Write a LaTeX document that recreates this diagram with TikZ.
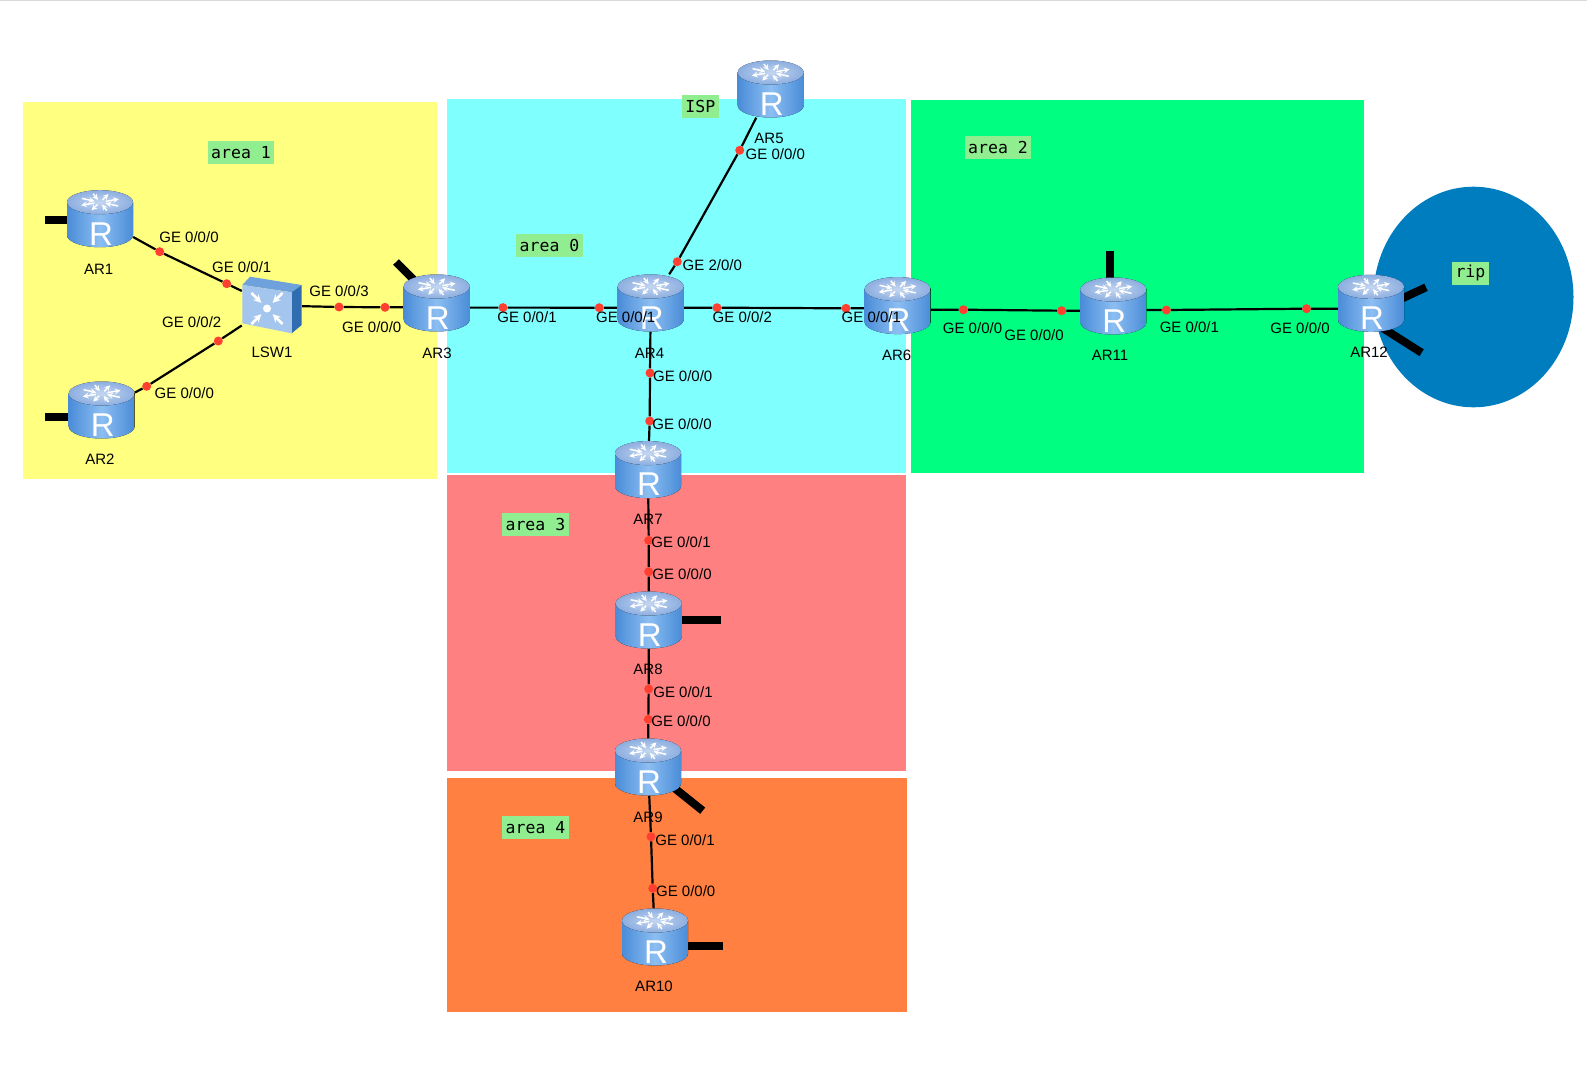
\documentclass[tikz,border=0pt]{standalone}
\usepackage{fontspec}
\setmainfont{Liberation Sans}
\setmonofont{DejaVu Sans Mono}
\usetikzlibrary{backgrounds}
\definecolor{iconblue}{HTML}{4A8CD8}
\definecolor{iconlight}{HTML}{8CBEF2}
\definecolor{icontop}{HTML}{C4D6F0}
\definecolor{iconrim}{HTML}{8CAEE0}
\definecolor{swfront}{HTML}{A4C6EE}
\definecolor{swside}{HTML}{2F6DB0}
\definecolor{swtop}{HTML}{6FA2DC}
\definecolor{tagfill}{HTML}{90EE90}
\definecolor{dotfill}{HTML}{FF4030}
\tikzset{
  router/.style={minimum width=66pt,minimum height=57pt,inner sep=0pt,
    path picture={
      \begin{scope}[shift={(path picture bounding box.center)},x=1pt,y=1pt]
        \fill[left color=iconblue,right color=iconblue,middle color=iconlight]
          (-33,16.5)--(-33,-16.5) arc[start angle=180,end angle=360,x radius=33,y radius=12]--(33,16.5)--cycle;
        \fill[inner color=icontop,outer color=iconrim](0,16.5)ellipse[x radius=33,y radius=12];
        \foreach \a in {20,200}
          \draw[white,line width=1.5pt,->]([shift={(0,16.5)}]\a:6 and 2.5)--([shift={(0,16.5)}]\a:20 and 9);
        \foreach \a in {110,290}
          \draw[white,line width=1.5pt,<-]([shift={(0,16.5)}]\a:6 and 2.5)--([shift={(0,16.5)}]\a:20 and 9);
        \foreach \a in {65,245}
          \draw[white,line width=1.5pt,->]([shift={(0,16.5)}]\a:6 and 2.5)--([shift={(0,16.5)}]\a:20 and 9);
        \foreach \a in {155,335}
          \draw[white,line width=1.5pt,<-]([shift={(0,16.5)}]\a:6 and 2.5)--([shift={(0,16.5)}]\a:20 and 9);
        \node[text=white,inner sep=0pt,font=\fontsize{33}{33}\selectfont] at (1,-15){R};
      \end{scope}
    }},
  switchbox/.style={minimum width=60pt,minimum height=58pt,inner sep=0pt,
    path picture={
      \begin{scope}[shift={(path picture bounding box.center)},x=1pt,y=1pt]
        \fill[swtop](-29.7,20.5)--(-22,28.8)--(29.7,20.5)--(19.7,13.2)--cycle;
        \fill[swside](19.7,13.2)--(29.7,20.5)--(29.7,-19.5)--(19.7,-27.8)--cycle;
        \fill[swfront](-29.7,20.5)--(19.7,13.2)--(19.7,-27.8)--(-29.7,-17.8)--cycle;
        \fill[white](-5,-3)circle(4);
        \foreach \a in {45,135,225,315}
          \draw[white,line width=2.5pt,<-]([shift=(\a:8)]-5,-3)--([shift=(\a:22)]-5,-3);
      \end{scope}
    }}
}
\begin{document}
\begin{tikzpicture}[>=stealth,x=1pt,y=-1pt,
  link/.style={black,line width=2.2pt},
  stub/.style={black,line width=8pt,shorten >=-8pt},
  portdot/.style={circle,fill=dotfill,minimum size=9pt,inner sep=0pt},
  portname/.style={inner sep=0pt,font=\fontsize{15}{15}\selectfont},
  devname/.style={inner sep=0pt,font=\fontsize{15}{15}\selectfont},
  areatag/.style={fill=tagfill,inner xsep=3.5pt,inner ysep=0pt,minimum height=23pt,
    font=\ttfamily\fontsize{16.5}{16.5}\selectfont}]
  \useasboundingbox (0,0) rectangle (1587,1078);
  \begin{scope}[on background layer]
    \draw[black!15,line width=1pt](0,0.5)--(1587,0.5);
    \fill[fill={rgb,255:red,255;green,255;blue,128}](23,102)rectangle(437,479);
    \fill[fill={rgb,255:red,128;green,255;blue,255}](447,99)rectangle(906,473);
    \fill[fill={rgb,255:red,0;green,255;blue,128}](911,100)rectangle(1364,473);
    \fill[fill={rgb,255:red,255;green,128;blue,128}](447,475)rectangle(906,771);
    \fill[fill={rgb,255:red,255;green,128;blue,64}](447,778)rectangle(907,1012);
    \fill[fill={rgb,255:red,0;green,125;blue,190}](1473.5,297)ellipse[x radius=100,y radius=110.3];
  \end{scope}
  \node[switchbox] (LSW1) at (272,305.5){};
  \foreach \n/\x/\y in {AR1/100/218.7,AR2/101.7/410,AR3/436.7/303,AR4/650.7/303,AR5/770.7/89,
    AR6/897.6/305.6,AR7/648/469.6,AR8/648.7/620,AR9/648/767,AR10/655/937,AR11/1113.4/306,AR12/1371/303.3}
    \node[router] (\n) at (\x,\y){};
  \foreach \n/\x/\y/\lx/\ly/\u/\v in {
    p1/159.7/251.7/189/236.7/0/0,p2/226.7/283.7/241.7/266.7/0/1,
    p3/146.7/386.3/184.3/392.7/0/0,p4/218.3/341/191.7/322/0/2,
    p5/339/307/339/290.7/0/3,p6/385/307.3/371.7/326.7/0/0,
    p7/503/307.6/527/317/0/1,p8/599.3/307.7/625.7/317.3/0/1,
    p9/717/307.7/742.3/317.3/0/2,p10/846/308.3/871.3/317/0/1,
    p11/963.4/309.7/972.5/328/0/0,p12/1061.6/310.7/1034/335/0/0,
    p13/1166.4/310/1189.4/326.7/0/1,p14/1306.5/308.7/1300/328/0/0,
    p15/677.3/261.7/712.3/265/2/0,p16/739.7/150.3/775.3/154/0/0,
    p17/650/373/682.7/376/0/0,p18/649.7/421/682/424/0/0,
    p19/648.7/540.4/681/542.4/0/1,p20/648.7/571.8/682/573.8/0/0,
    p21/648.7/689/683/692/0/1,p22/648.3/719.3/681/721.3/0/0,
    p23/651/836.7/685/840/0/1,p24/652.7/888.3/685.7/890.7/0/0}
  {
    \node[portdot] (\n) at (\x,\y){};
    \node[portname] (t\n) at (\lx,\ly){GE \u/0/\v};
  }
  \foreach \n/\x/\y in {AR1/98.7/269,AR2/100/459,AR3/437/353,LSW1/272/352,AR4/649.5/353,AR5/769/138.7,
    AR6/896.6/355,AR7/648/519,AR8/648/669,AR9/648/817,AR10/654/986,AR11/1110/355.7,AR12/1369/352.7}
    \node[devname] (t\n) at (\x,\y){\n};
  \foreach \n/\x/\y/\t in {a1/241/152.5/area 1,a0/549.5/245/area 0,a2/998/147.8/area 2,a3/535.4/524.2/area 3,
    a4/535.5/827.5/area 4,isp/700.3/106.5/ISP,rip/1470.4/273/rip}
    \node[areatag] (\n) at (\x,\y){\t};
  \coordinate (s1) at (45,220);
  \coordinate (s2) at (45,417);
  \coordinate (s3) at (396,262);
  \coordinate (s8) at (720.5,619.5);
  \coordinate (s9) at (702.7,810.7);
  \coordinate (s10) at (723,946);
  \coordinate (s11) at (1110,251);
  \coordinate (s12) at (1426,287.3);
  \coordinate (s13) at (1421.6,352.7);
  \begin{scope}[on background layer]
    \draw[link](AR1)--(p1)--(p2)--(LSW1);
    \draw[link](AR2)--(p3)--(p4)--(LSW1);
    \draw[link](LSW1)--(p5)--(p6)--(p6-|AR3.west);
    \draw[link](p7-|AR3.east)--(p7)--(p8)--(p8-|AR4.west);
    \draw[link](p9-|AR4.east)--(p9)--(p10)--(p10-|AR6.west);
    \draw[link](p11-|AR6.east)--(p11)--(p12)--(p12-|AR11.west);
    \draw[link](p13-|AR11.east)--(p13)--(p14)--(p14-|AR12.west);
    \draw[link](AR4)--(p15)--(p16)--(AR5);
    \draw[link](AR4)--(p17)--(p18)--(AR7);
    \draw[link](AR7)--(p19)--(p20)--(AR8);
    \draw[link](AR8)--(p21)--(p22)--(AR9);
    \draw[link](AR9)--(p23)--(p24)--(AR10);
    \draw[stub](s1)--(s1-|AR1.west);
    \draw[stub](s2)--(s2-|AR2.west);
    \draw[stub](s3)--(AR3);
    \draw[stub](s8)--(s8-|AR8.east);
    \draw[stub](s9)--(AR9);
    \draw[stub](s10)--(s10-|AR10.east);
    \draw[stub](s11)--(s11|-AR11.north);
    \draw[stub](s12)--(AR12.10);
    \draw[stub](s13)--(AR12.-58);
  \end{scope}
\end{tikzpicture}
\end{document}
